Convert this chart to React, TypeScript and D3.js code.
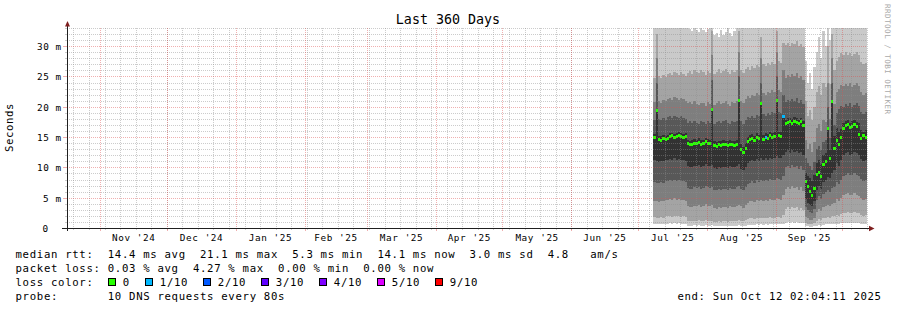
import React from "react";
import * as d3 from "d3";

const START = Date.UTC(2024, 9, 17, 2, 4, 11);
const END = Date.UTC(2025, 9, 12, 2, 4, 11);
const DATA_START = Date.UTC(2025, 6, 8);
const DAY = 86400000;

const yTickValues = [0, 5, 10, 15, 20, 25, 30];
const monthLabels = ["Nov '24", "Dec '24", "Jan '25", "Feb '25", "Mar '25", "Apr '25", "May '25", "Jun '25", "Jul '25", "Aug '25", "Sep '25"];

// daily median rtt (ms), Jul 8 .. Oct 12 2025
const medianRtt = [
  15.0, 19.4, 14.6, 14.5, 14.7, 14.6, 14.8, 15.1, 15.2, 15.0, 15.1, 15.3, 15.1, 15.0, 15.1,
  13.9, 13.7, 13.8, 14.0, 13.9, 14.1, 13.8, 13.9, 14.2, 14.0, 13.9, 19.5, 13.6, 13.5, 13.7, 13.6, 13.8, 13.7, 13.6, 13.8, 13.7, 13.6, 13.8, 21.0,
  13.0, 12.4, 13.2, 14.3, 14.6, 14.8, 14.5, 14.9, 14.7, 20.5, 14.6, 15.0, 14.8, 15.2, 14.9, 15.1, 21.0, 15.2, 15.1, 18.4,
  17.2, 17.4, 17.5, 17.3, 17.6, 17.4, 17.2, 17.5, 16.9,
  7.6, 6.8, 6.0, 5.4, 6.5,
  8.8, 9.2, 8.5, 10.5, 11.0, 16.4, 11.5, 20.8,
  13.2, 14.5, 13.8, 15.0, 16.5, 16.9, 17.0, 16.6, 16.8, 17.1, 16.7, 15.4, 14.8, 15.2, 14.9, 15.1,
];

// lost pings (of 10) per day
const lossCount = [
  0, 0, 0, 0, 0, 0, 0, 0, 0, 0, 0, 0, 0, 0, 0,
  0, 0, 0, 0, 0, 0, 0, 0, 0, 0, 0, 0, 0, 0, 0, 0, 0, 0, 0, 0, 0, 0, 0, 0,
  0, 0, 0, 0, 0, 0, 0, 0, 0, 0, 0, 1, 0, 0, 0, 0, 0, 0, 0, 1,
  0, 0, 0, 0, 0, 0, 0, 0, 0,
  0, 0, 0, 0, 0,
  0, 0, 0, 0, 0, 0, 0, 0,
  0, 0, 0, 0, 0, 0, 0, 0, 0, 0, 0, 0, 0, 0, 0, 0,
];

// sorted ping smoke boundaries (ms), ping10 = slowest
const ping10 = [
  34, 34, 34, 34, 34, 34, 34, 34, 34, 34, 34, 34, 34, 34, 33.6,
  33.2, 32.8, 32.5, 33.4, 32.6, 32.4, 33.0, 32.7, 32.3, 32.8, 33.1, 34, 31.8, 32.2, 31.5, 32.6, 31.9, 32.4, 33.0, 32.1, 31.7, 32.5, 33.2, 34,
  33.5, 34, 34, 34, 33.8, 34, 34, 34, 33.2, 34, 34, 34, 33.6, 34, 34, 34, 34, 34, 34, 34,
  34, 34, 34, 34, 34, 34, 34, 34, 34,
  27.5, 24.0, 25.5, 23.0, 26.5,
  29.0, 31.5, 28.0, 32.5, 30.0, 34, 31.0, 34,
  33.0, 34, 34, 34, 34, 34, 34, 34, 34, 34, 34, 34, 33.4, 33.0, 33.6, 33.2,
];
const ping9 = [
  24.8, 32.0, 25.0, 24.7, 25.2, 24.9, 25.4, 25.6, 25.3, 25.8, 25.5, 25.2, 25.7, 25.4, 25.1,
  25.6, 25.9, 25.4, 26.1, 25.7, 25.5, 26.0, 25.8, 25.3, 25.9, 25.6, 32.5, 25.4, 25.8, 26.2, 25.5, 25.9, 26.3, 25.7, 25.4, 26.0, 25.8, 26.1, 32.5,
  26.0, 25.6, 26.2, 26.5, 26.1, 26.8, 26.4, 26.9, 26.6, 31.5, 27.0, 26.7, 27.2, 26.9, 27.4, 27.1, 32.5, 27.6, 27.3, 30.5,
  30.2, 30.5, 30.0, 30.6, 30.3, 30.8, 30.1, 30.4, 29.8,
  21.0, 18.5, 19.5, 17.8, 20.0,
  22.5, 23.5, 22.0, 24.0, 23.2, 30.0, 23.8, 32.0,
  26.0, 27.5, 28.2, 28.8, 28.5, 29.0, 28.6, 28.9, 28.4, 28.7, 29.1, 28.5, 27.4, 27.0, 27.3, 26.8,
];
const ping8 = [
  20.8, 28.0, 21.0, 20.7, 21.1, 20.9, 21.3, 21.5, 21.2, 21.6, 21.4, 21.1, 21.5, 21.3, 21.0,
  20.6, 20.8, 20.4, 20.9, 20.5, 20.3, 20.7, 20.6, 20.2, 20.8, 20.5, 28.5, 20.3, 20.6, 20.9, 20.4, 20.7, 21.0, 20.5, 20.2, 20.8, 20.6, 20.9, 29.0,
  21.0, 20.6, 21.3, 21.8, 21.5, 22.0, 21.7, 22.2, 21.9, 28.0, 22.3, 22.0, 22.5, 22.2, 22.7, 22.4, 29.0, 22.8, 22.5, 26.0,
  24.8, 25.2, 24.9, 25.4, 25.0, 25.5, 24.7, 25.1, 24.5,
  14.5, 13.0, 13.8, 12.6, 14.2,
  16.5, 17.2, 16.0, 17.8, 17.5, 24.0, 18.0, 28.0,
  20.5, 22.5, 23.0, 23.6, 23.4, 23.8, 23.5, 23.9, 23.3, 23.6, 24.0, 23.4, 22.4, 22.0, 22.3, 21.8,
];
const ping7 = [
  17.9, 24.0, 18.0, 17.8, 18.1, 17.9, 18.3, 18.4, 18.2, 18.5, 18.3, 18.1, 18.4, 18.2, 18.0,
  17.4, 17.6, 17.3, 17.7, 17.4, 17.2, 17.6, 17.5, 17.1, 17.6, 17.4, 24.5, 17.2, 17.5, 17.7, 17.3, 17.6, 17.8, 17.4, 17.1, 17.6, 17.5, 17.7, 25.0,
  17.6, 17.2, 17.9, 18.3, 18.1, 18.5, 18.2, 18.7, 18.4, 24.0, 18.8, 18.5, 19.0, 18.7, 19.1, 18.9, 25.0, 19.2, 19.0, 22.0,
  20.8, 21.2, 20.9, 21.3, 21.0, 21.4, 20.7, 21.1, 20.5,
  11.5, 10.8, 10.2, 9.6, 10.9,
  13.0, 13.6, 12.8, 14.2, 14.5, 20.0, 14.8, 24.0,
  17.0, 19.0, 19.6, 20.2, 20.0, 20.5, 20.1, 20.6, 19.9, 20.3, 20.7, 20.1, 19.2, 18.8, 19.1, 18.6,
];
const ping6 = [
  15.5, 19.6, 15.2, 15.1, 15.3, 15.2, 15.4, 15.6, 15.7, 15.5, 15.6, 15.8, 15.6, 15.5, 15.6,
  14.6, 14.4, 14.5, 14.7, 14.6, 14.8, 14.5, 14.6, 14.9, 14.7, 14.6, 19.8, 14.3, 14.2, 14.4, 14.3, 14.5, 14.4, 14.3, 14.5, 14.4, 14.3, 14.5, 21.2,
  13.8, 13.4, 14.0, 15.0, 15.3, 15.5, 15.2, 15.6, 15.4, 20.8, 15.3, 15.7, 15.5, 15.9, 15.6, 15.8, 21.2, 15.9, 15.8, 18.7,
  17.9, 18.1, 18.2, 18.0, 18.3, 18.1, 17.9, 18.2, 17.7,
  9.0, 8.6, 8.2, 7.8, 8.8,
  10.8, 11.2, 10.6, 12.0, 12.4, 16.7, 12.8, 21.1,
  15.2, 16.5, 15.8, 16.4, 17.4, 17.7, 17.8, 17.4, 17.6, 17.9, 17.5, 17.3, 16.2, 15.8, 16.1, 15.8,
];
const ping5 = [
  11.2, 11.0, 10.9, 11.1, 11.0, 11.2, 11.3, 11.4, 11.2, 11.5, 11.3, 11.4, 11.2, 11.3, 11.1,
  10.2, 10.0, 10.1, 10.3, 10.2, 10.4, 10.1, 10.2, 10.5, 10.3, 10.2, 10.4, 9.9, 9.8, 10.0, 9.9, 10.1, 10.0, 9.9, 10.2, 10.1, 10.0, 10.3, 10.5,
  9.8, 9.5, 10.0, 10.8, 11.0, 11.2, 11.0, 11.4, 11.1, 11.6, 11.2, 11.5, 11.3, 11.6, 11.4, 11.5, 11.8, 11.6, 11.5, 12.0,
  12.6, 12.8, 12.4, 12.9, 12.5, 12.7, 12.3, 12.6, 12.0,
  4.8, 4.2, 3.8, 3.6, 4.5,
  6.2, 7.0, 6.4, 7.6, 8.0, 8.4, 8.2, 9.0,
  9.6, 10.8, 10.2, 11.2, 12.0, 12.3, 12.5, 12.1, 12.2, 12.6, 12.3, 12.0, 11.4, 11.0, 11.3, 11.0,
];
const ping4 = [
  7.6, 7.5, 7.4, 7.6, 7.5, 7.7, 7.8, 7.9, 7.7, 8.0, 7.8, 7.9, 7.7, 7.8, 7.6,
  6.6, 6.4, 6.5, 6.7, 6.6, 6.8, 6.5, 6.6, 6.9, 6.7, 6.6, 6.8, 6.3, 6.2, 6.4, 6.3, 6.5, 6.4, 6.3, 6.6, 6.5, 6.4, 6.7, 6.9,
  6.5, 6.2, 6.8, 7.3, 7.5, 7.7, 7.5, 7.9, 7.6, 8.0, 7.7, 8.0, 7.8, 8.1, 7.9, 8.0, 8.2, 8.1, 8.0, 8.6,
  10.0, 10.3, 9.9, 10.4, 10.1, 10.3, 9.8, 10.2, 9.6,
  3.4, 3.0, 2.7, 2.5, 3.2,
  4.6, 5.2, 4.8, 5.6, 5.9, 6.2, 6.0, 6.6,
  6.8, 7.6, 7.2, 8.0, 8.6, 8.8, 9.0, 8.7, 8.8, 9.1, 8.8, 8.6, 8.1, 7.8, 8.0, 7.7,
];
const ping3 = [
  4.5, 4.4, 4.3, 4.5, 4.4, 4.6, 4.7, 4.8, 4.6, 4.9, 4.7, 4.8, 4.6, 4.7, 4.5,
  3.6, 3.4, 3.5, 3.7, 3.6, 3.8, 3.5, 3.6, 3.9, 3.7, 3.6, 3.8, 3.3, 3.2, 3.4, 3.3, 3.5, 3.4, 3.3, 3.6, 3.5, 3.4, 3.7, 3.8,
  3.6, 3.3, 3.8, 4.2, 4.4, 4.5, 4.3, 4.6, 4.4, 4.7, 4.5, 4.7, 4.5, 4.8, 4.6, 4.7, 4.9, 4.8, 4.7, 5.4,
  6.5, 6.8, 6.4, 6.9, 6.6, 6.8, 6.3, 6.7, 6.1,
  1.8, 1.6, 1.4, 1.3, 1.7,
  2.6, 3.1, 2.8, 3.4, 3.6, 3.8, 3.7, 4.0,
  4.2, 4.8, 4.5, 5.0, 5.4, 5.6, 5.7, 5.4, 5.5, 5.8, 5.5, 5.3, 4.9, 4.7, 4.8, 4.6,
];
const ping2 = [
  1.8, 1.7, 1.7, 1.8, 1.7, 1.9, 1.9, 2.0, 1.8, 2.0, 1.9, 2.0, 1.8, 1.9, 1.8,
  1.2, 1.1, 1.1, 1.2, 1.1, 1.3, 1.1, 1.2, 1.3, 1.2, 1.1, 1.2, 1.0, 1.0, 1.1, 1.0, 1.1, 1.1, 1.0, 1.2, 1.1, 1.1, 1.2, 1.3,
  1.2, 1.1, 1.3, 1.5, 1.6, 1.6, 1.5, 1.7, 1.6, 1.7, 1.6, 1.7, 1.6, 1.8, 1.7, 1.7, 1.8, 1.8, 1.7, 2.2,
  3.2, 3.4, 3.1, 3.5, 3.3, 3.4, 3.0, 3.3, 2.9,
  0.8, 0.7, 0.6, 0.6, 0.8,
  1.2, 1.5, 1.3, 1.6, 1.7, 1.8, 1.7, 1.9,
  1.9, 2.2, 2.0, 2.3, 2.4, 2.5, 2.6, 2.4, 2.5, 2.6, 2.5, 2.4, 2.1, 2.0, 2.1, 2.0,
];
const ping1 = [
  0.7, 0.6, 0.6, 0.7, 0.6, 0.7, 0.7, 0.8, 0.7, 0.8, 0.7, 0.8, 0.7, 0.7, 0.7,
  0.4, 0.4, 0.4, 0.5, 0.4, 0.5, 0.4, 0.4, 0.5, 0.4, 0.4, 0.5, 0.3, 0.3, 0.4, 0.3, 0.4, 0.4, 0.3, 0.4, 0.4, 0.4, 0.4, 0.5,
  0.4, 0.4, 0.4, 0.5, 0.5, 0.5, 0.5, 0.6, 0.5, 0.6, 0.5, 0.6, 0.5, 0.6, 0.6, 0.6, 0.6, 0.6, 0.6, 0.7,
  0.9, 1.0, 0.9, 1.0, 0.9, 1.0, 0.8, 0.9, 0.8,
  0.3, 0.3, 0.2, 0.2, 0.3,
  0.4, 0.5, 0.4, 0.5, 0.6, 0.6, 0.6, 0.7,
  0.6, 0.7, 0.7, 0.8, 0.8, 0.8, 0.9, 0.8, 0.8, 0.9, 0.8, 0.8, 0.7, 0.7, 0.7, 0.7,
];

const lossLabels = ["0", "1/10", "2/10", "3/10", "4/10", "5/10", "9/10"];
const lossColors = ["#26ff00", "#00b8ff", "#0059ff", "#5e00ff", "#7e00ff", "#dd00ff", "#ff0000"];
const legendLines = [
  "median rtt:  14.4 ms avg  21.1 ms max  5.3 ms min  14.1 ms now  3.0 ms sd  4.8   am/s",
  "packet loss: 0.03 % avg  4.27 % max  0.00 % min  0.00 % now",
];
const probeText = "probe:       10 DNS requests every 80s";
const endText = "end: Sun Oct 12 02:04:11 2025";

// layout
const X0 = 67, X1 = 867, Y0 = 228, Y1 = 28;
const boxX = [108.5, 145.5, 203.5, 261.5, 319.5, 377.5, 435.5];
const smokeGrays = ["#cacaca", "#a4a4a4", "#7e7e7e", "#585858", "#323232"];
const MONO = "'DejaVu Sans Mono', monospace";
const GRID = "rgba(143,143,143,0.45)";
const MGRID = "rgba(222,79,79,0.45)";

export default function App() {
  const x = d3.scaleLinear().domain([START, END]).range([X0, X1]);
  const y = d3.scaleLinear().domain([0, 33]).range([Y0, Y1]);
  const px = (v: number) => Math.round(v) + 0.5;

  const pings = [ping1, ping2, ping3, ping4, ping5, ping6, ping7, ping8, ping9, ping10];
  const n = medianRtt.length;
  const idx = d3.range(n + 1);
  const dayX = (i: number) => x(DATA_START + i * DAY);

  const bands = [0, 1, 2, 3, 4].map((b) => {
    const lo = pings[b], hi = pings[9 - b];
    const area = d3
      .area<number>()
      .x((i) => dayX(i))
      .y0((i) => y(lo[Math.min(i, n - 1)]))
      .y1((i) => y(hi[Math.min(i, n - 1)]))
      .curve(d3.curveStepAfter);
    return area(idx) || "";
  });

  const months = d3.utcMonth.range(new Date(START), new Date(END));
  const weeks = d3.utcSunday.range(new Date(START), new Date(END));
  const monthMid = monthLabels.map((_, i) => {
    const a = months[i].getTime();
    const b = d3.utcMonth.offset(months[i], 1).getTime();
    return x((a + b) / 2);
  });

  const minorY = d3.range(1, 34).filter((v) => v % 5 !== 0);
  const majorY = yTickValues.filter((v) => v > 0);

  const legendY = [257.7, 271.8, 285.9, 300];

  return (
    <svg
      width={897}
      height={310}
      style={{ position: "absolute", left: 0, top: 0, background: "#fff", display: "block" }}
      fontFamily={MONO}
    >
      <rect x={0} y={0} width={897} height={310} fill="#fff" />
      <defs>
        <clipPath id="plot">
          <rect x={X0} y={Y1} width={X1 - X0} height={Y0 - Y1} />
        </clipPath>
      </defs>

      {/* smoke */}
      <g clipPath="url(#plot)" shapeRendering="crispEdges">
        {bands.map((d, i) => (
          <path key={i} d={d} fill={smokeGrays[i]} />
        ))}
        {medianRtt.map((m, i) => (
          <rect
            key={i}
            x={dayX(i)}
            width={dayX(i + 1) - dayX(i)}
            y={y(m) - 1.5}
            height={3}
            fill={lossColors[lossCount[i]]}
          />
        ))}
      </g>

      {/* grid */}
      <g shapeRendering="crispEdges">
        {minorY.map((v) => (
          <g key={"my" + v}>
            <line x1={X0} x2={X1} y1={px(y(v))} y2={px(y(v))} stroke={GRID} strokeDasharray="1,1" />
            <line x1={X0 - 2} x2={X0} y1={px(y(v))} y2={px(y(v))} stroke={GRID} />
          </g>
        ))}
        {weeks.map((w, i) => (
          <g key={"wk" + i}>
            <line x1={px(x(w))} x2={px(x(w))} y1={Y1} y2={Y0} stroke={GRID} strokeDasharray="1,1" />
            <line x1={px(x(w))} x2={px(x(w))} y1={Y0} y2={Y0 + 2} stroke={GRID} />
          </g>
        ))}
        {majorY.map((v) => (
          <g key={"My" + v}>
            <line x1={X0} x2={X1} y1={px(y(v))} y2={px(y(v))} stroke={MGRID} strokeDasharray="1,1" />
            <line x1={X0 - 4} x2={X0} y1={px(y(v))} y2={px(y(v))} stroke={MGRID} />
          </g>
        ))}
        {months.map((m, i) => (
          <g key={"mo" + i}>
            <line x1={px(x(m))} x2={px(x(m))} y1={Y1} y2={Y0} stroke={MGRID} strokeDasharray="1,1" />
            <line x1={px(x(m))} x2={px(x(m))} y1={Y0} y2={Y0 + 3} stroke={MGRID} />
          </g>
        ))}
      </g>

      {/* axes */}
      <g shapeRendering="crispEdges">
        <line x1={62} x2={869} y1={Y0 + 0.5} y2={Y0 + 0.5} stroke="#1f1f1f" />
        <line x1={X0 + 0.5} x2={X0 + 0.5} y1={231} y2={26} stroke="#1f1f1f" />
      </g>
      <path d={`M${X0 + 0.5},21 L${X0 + 3},26.5 L${X0 - 2},26.5 Z`} fill="#7f1f1f" />
      <path d={`M874.5,${Y0 + 0.5} L869,${Y0 - 2.2} L869,${Y0 + 3.2} Z`} fill="#7f1f1f" />

      {/* y tick labels */}
      {yTickValues.map((v) => {
        const label = v === 0 ? "0" : `${v} m`;
        const startX = v === 0 ? 42.5 : 61 - label.length * 6;
        return (
          <text
            key={"yl" + v}
            x={startX}
            y={px(y(v)) + 3.2}
            fontSize={9.33}
            letterSpacing={0.58}
            fill="#000"
            style={{ whiteSpace: "pre" }}
          >
            {label}
          </text>
        );
      })}

      {/* x labels */}
      {monthLabels.map((l, i) => (
        <text
          key={"xl" + i}
          x={monthMid[i] + 0.3}
          y={241}
          fontSize={9.33}
          letterSpacing={0.58}
          textAnchor="middle"
          fill="#000"
          style={{ whiteSpace: "pre" }}
        >
          {l}
        </text>
      ))}

      {/* title */}
      <text x={448} y={24} fontSize={13.33} textAnchor="middle" fill="#000">
        Last 360 Days
      </text>

      {/* y axis title */}
      <text
        transform="translate(13.3,127.5) rotate(-90)"
        fontSize={10.67}
        letterSpacing={0.6}
        textAnchor="middle"
        fill="#000"
      >
        Seconds
      </text>

      {/* watermark */}
      <text
        transform="translate(884.5,4) rotate(90)"
        fontSize={7.6}
        letterSpacing={0.45}
        fill="#aaaaaa"
        style={{ whiteSpace: "pre" }}
      >
        RRDTOOL / TOBI OETIKER
      </text>

      {/* legend */}
      {legendLines.map((l, i) => (
        <text
          key={"lg" + i}
          x={15.5}
          y={legendY[i]}
          fontSize={10.67}
          letterSpacing={0.68}
          fill="#000"
          style={{ whiteSpace: "pre" }}
        >
          {l}
        </text>
      ))}
      <text x={15.5} y={legendY[2]} fontSize={10.67} letterSpacing={0.68} fill="#000" style={{ whiteSpace: "pre" }}>
        loss color:
      </text>
      {lossLabels.map((l, i) => (
        <g key={"lc" + i}>
          <rect x={boxX[i]} y={278.5} width={7} height={7} fill={lossColors[i]} stroke="#000" shapeRendering="crispEdges" />
          <text
            x={boxX[i] + 14.3}
            y={legendY[2]}
            fontSize={10.67}
            letterSpacing={0.68}
            fill="#000"
            style={{ whiteSpace: "pre" }}
          >
            {l}
          </text>
        </g>
      ))}
      <text x={15.5} y={legendY[3]} fontSize={10.67} letterSpacing={0.68} fill="#000" style={{ whiteSpace: "pre" }}>
        {probeText}
      </text>
      <text x={677.5} y={legendY[3]} fontSize={10.67} letterSpacing={0.62} fill="#000" style={{ whiteSpace: "pre" }}>
        {endText}
      </text>
    </svg>
  );
}
